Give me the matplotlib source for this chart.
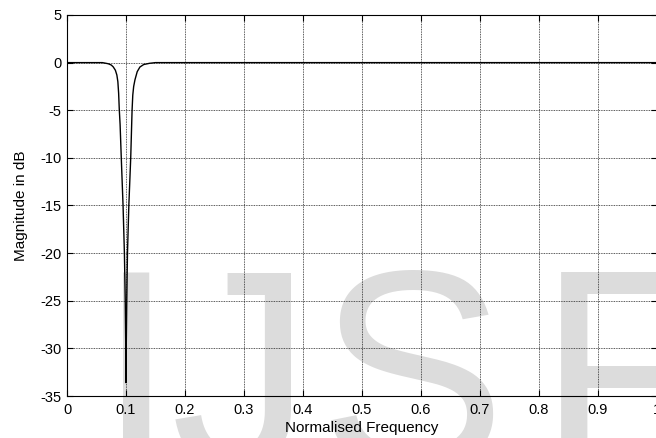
import matplotlib
matplotlib.use("Agg")
import matplotlib.pyplot as plt

plt.rcParams['font.family'] = ['Liberation Sans', 'DejaVu Sans']
plt.rcParams['axes.unicode_minus'] = False

# Magnitude response of the notch filter (normalised frequency, dB)
freq = [0.0, 0.0600, 0.0644, 0.0700, 0.0750, 0.0784, 0.0820, 0.0845, 0.0862,
        0.0875, 0.0886, 0.0900, 0.0920, 0.0950, 0.0973, 0.0987, 0.0996, 0.1000,
        0.1004, 0.1013, 0.1025, 0.1048, 0.1080, 0.1096, 0.1103, 0.1115, 0.1130,
        0.1152, 0.1190, 0.1236, 0.1300, 0.1400, 0.1500, 1.0]
mag_db = [0.0, 0.0, -0.05, -0.12, -0.25, -0.45, -0.8, -1.3, -2.0,
          -3.2, -4.9, -6.5, -10.0, -15.0, -20.0, -25.0, -30.0, -33.6,
          -30.0, -25.0, -20.0, -15.0, -10.0, -6.5, -5.0, -3.4, -2.5,
          -1.8, -0.95, -0.46, -0.2, -0.07, 0.0, 0.0]

xticks = [0, 0.1, 0.2, 0.3, 0.4, 0.5, 0.6, 0.7, 0.8, 0.9, 1]
xticklabels = ['0', '0.1', '0.2', '0.3', '0.4', '0.5', '0.6', '0.7', '0.8', '0.9', '1']
yticks = [5, 0, -5, -10, -15, -20, -25, -30, -35]

fig = plt.figure(figsize=(6.56, 4.38), dpi=100)
fig.patch.set_facecolor('white')

# watermark letters behind the plot
W, H = 656.0, 438.0
for letter, xc in [('I', 136), ('J', 241), ('S', 411), ('F', 624)]:
    fig.text(xc / W, (H - 467) / H, letter, fontsize=203, color='#dcdcdc',
             ha='center', va='baseline', zorder=-5)

ax = fig.add_axes([67 / W, 1 - 396 / H, 590 / W, 381 / H])
ax.set_facecolor('none')

ax.plot(freq, mag_db, color='black', lw=1.0)

ax.set_xlim(0, 1)
ax.set_ylim(-35, 5)
ax.set_xticks(xticks)
ax.set_xticklabels(xticklabels)
ax.set_yticks(yticks)
ax.grid(True, color='#222222', lw=0.6, linestyle=(0, (1, 1)))
ax.tick_params(direction='in', top=True, right=True, length=4, width=0.8,
               labelsize=10.5)
ax.tick_params(axis='x', pad=5)
ax.tick_params(axis='y', pad=4)
for s in ax.spines.values():
    s.set_linewidth(0.8)

ax.set_xlabel('Normalised Frequency', fontsize=11, labelpad=3)
ax.set_ylabel('Magnitude in dB', fontsize=11, labelpad=9)

fig.savefig('out.png', dpi=100)
